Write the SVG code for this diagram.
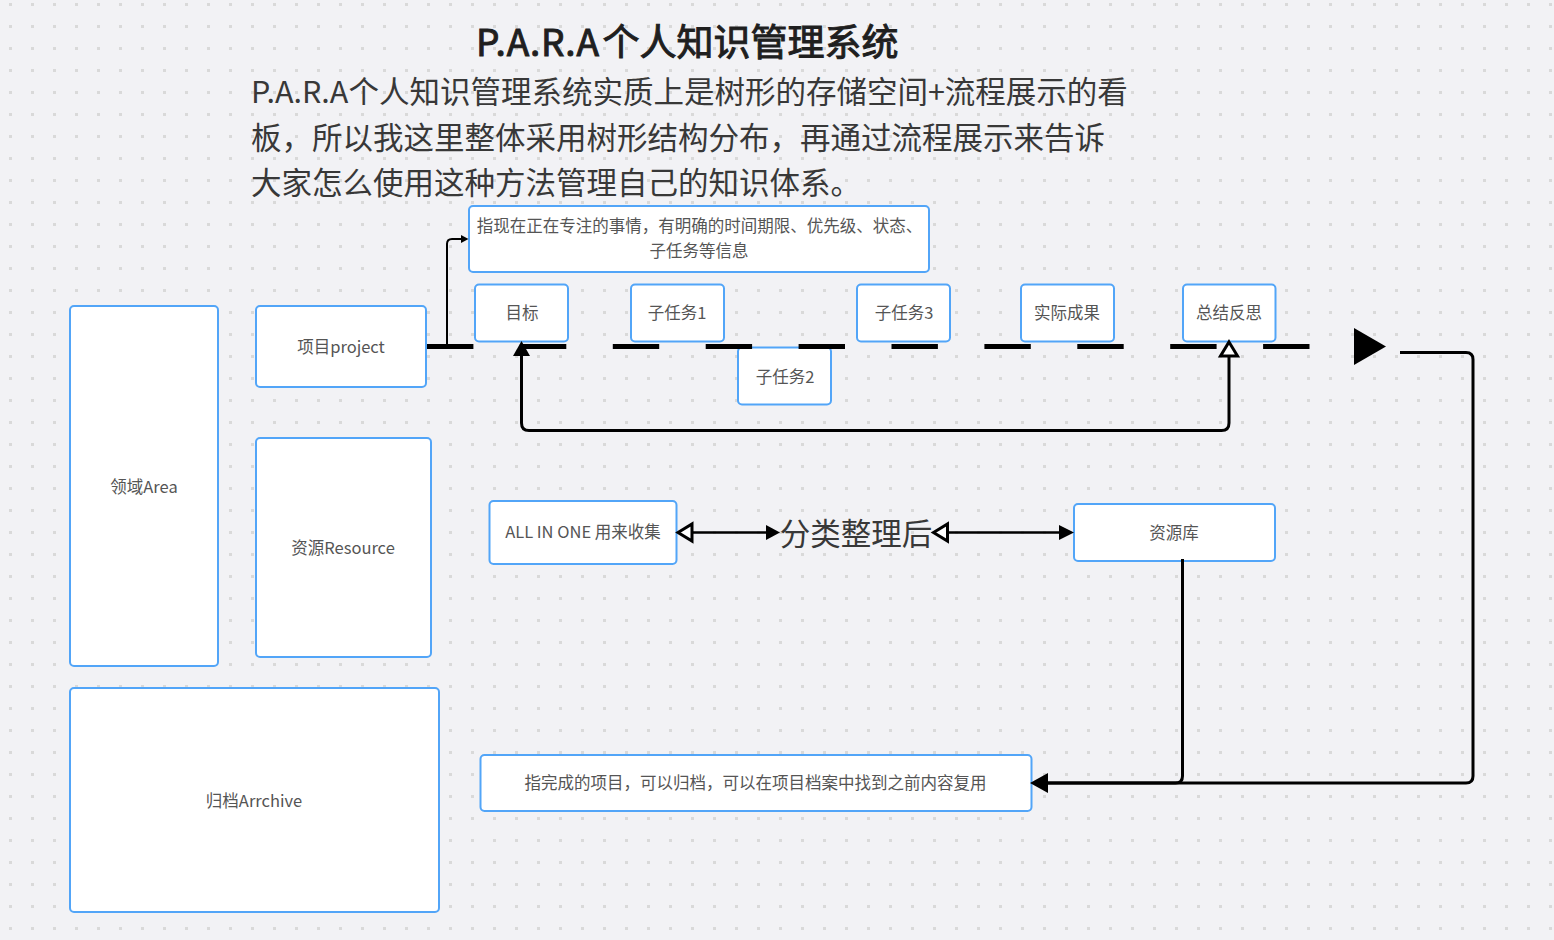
<svg xmlns="http://www.w3.org/2000/svg" width="1554" height="940" viewBox="0 0 1554 940">
<style>
text{font-family:"Noto Sans CJK SC","Noto Sans",sans-serif}
.n{fill:#fff;stroke:#52a5f8;stroke-width:2}
.t{font-size:16.5px;fill:#555;text-anchor:middle;dominant-baseline:central}
.d{font-size:30.5px;fill:#383838}
.l{fill:none;stroke:#000;stroke-linejoin:round}
</style>
<defs>
<pattern id="dots" width="22" height="22" patternUnits="userSpaceOnUse" x="-1" y="-7"><rect x="10" y="10" width="3" height="3" fill="#d9d9d9"/></pattern>
</defs>
<rect width="1554" height="940" fill="#f2f2f5"/>
<rect width="1554" height="940" fill="url(#dots)"/>
<text id="title" y="56" font-size="37" fill="#1f1f1f" stroke="#1f1f1f" stroke-width="1"><tspan x="476" letter-spacing="0.8">P.A.R.A</tspan><tspan x="602.500">个人知识管理系统</tspan></text>
<g id="description">
<text class="d" x="251" y="103">P.A.R.A个人知识管理系统实质上是树形的存储空间+流程展示的看</text>
<text class="d" x="251" y="149">板，所以我这里整体采用树形结构分布，再通过流程展示来告诉</text>
<text class="d" x="251" y="194">大家怎么使用这种方法管理自己的知识体系。</text>
</g>
<g id="n-area"><rect class="n" x="70" y="306" width="148" height="360" rx="4"/><text class="t" x="144" y="485.500">领域Area</text></g>
<g id="n-project"><rect class="n" x="256" y="306" width="170" height="81" rx="4"/><text class="t" x="341" y="345.500">项目project</text></g>
<g id="n-resource"><rect class="n" x="256" y="438" width="175" height="219" rx="4"/><text class="t" x="343" y="546.500">资源Resource</text></g>
<g id="n-archive"><rect class="n" x="70" y="688" width="369" height="224" rx="4"/><text class="t" x="254" y="799.500">归档Arrchive</text></g>
<g id="n-desc"><rect class="n" x="469" y="206" width="460" height="66" rx="4"/><text class="t" x="699.500" y="225">指现在正在专注的事情，有明确的时间期限、优先级、状态、</text><text class="t" x="699" y="250">子任务等信息</text></g>
<g id="n-goal"><rect class="n" x="475" y="284.500" width="93" height="57" rx="4"/><text class="t" x="522" y="312">目标</text></g>
<g id="n-sub1"><rect class="n" x="631" y="284.500" width="93" height="57" rx="4"/><text class="t" x="677" y="312">子任务1</text></g>
<g id="n-sub2"><rect class="n" x="738" y="347.500" width="93" height="57" rx="4"/><text class="t" x="785" y="375.500">子任务2</text></g>
<g id="n-sub3"><rect class="n" x="857" y="284.500" width="93" height="57" rx="4"/><text class="t" x="904" y="312">子任务3</text></g>
<g id="n-result"><rect class="n" x="1021" y="284.500" width="93" height="57" rx="4"/><text class="t" x="1067" y="312">实际成果</text></g>
<g id="n-review"><rect class="n" x="1183" y="284.500" width="92.500" height="57" rx="4"/><text class="t" x="1229" y="312">总结反思</text></g>
<g id="n-inbox"><rect class="n" x="489.500" y="501" width="187" height="63" rx="4"/><text class="t" x="583" y="531">ALL IN ONE 用来收集</text></g>
<g id="n-sorted"><text x="856" y="532" font-size="30.500" fill="#383838" text-anchor="middle" dominant-baseline="central">分类整理后</text></g>
<g id="n-lib"><rect class="n" x="1074" y="504" width="201" height="57" rx="4"/><text class="t" x="1174" y="532">资源库</text></g>
<g id="n-done"><rect class="n" x="480.500" y="755" width="551" height="56" rx="4"/><text class="t" x="755.500" y="782">指完成的项目，可以归档，可以在项目档案中找到之前内容复用</text></g>
<g id="connectors">
<path d="M427 346.500H1310" fill="none" stroke="#000" stroke-width="5" stroke-dasharray="46.400 46.500"/>
<path d="M1354 328L1386 346.500L1354 365Z" fill="#000"/>
<path class="l" stroke-width="2" d="M447 346V244Q447 239 452 239H462"/>
<path d="M461 235L468.500 239L461 243Z" fill="#000"/>
<path class="l" stroke-width="3" d="M521.500 354V423Q521.500 430.500 529 430.500H1221.500Q1229 430.500 1229 423V357"/>
<path d="M521.500 341L530 356H513Z" fill="#000"/>
<path d="M1229 342L1237.500 356H1220.500Z" fill="#fff" stroke="#000" stroke-width="3"/>
<path class="l" stroke-width="3" d="M1400 352.500H1466Q1473 352.500 1473 359.500V776Q1473 783 1466 783H1046"/>
<path class="l" stroke-width="3" d="M1182.500 559V776Q1182.500 783 1175.500 783H1046"/>
<path d="M1030 783L1048 773V793Z" fill="#000"/>
<path class="l" stroke-width="2.500" d="M692 532.500H767M948 532.500H1060"/>
<path d="M678 532.500L692 524V541Z" fill="#fff" stroke="#000" stroke-width="3"/>
<path d="M780 532.500L766 525V540Z" fill="#000"/>
<path d="M933.500 532.500L947.500 524V541Z" fill="#fff" stroke="#000" stroke-width="3"/>
<path d="M1074 532.500L1059 525V540Z" fill="#000"/>
</g>
</svg>
